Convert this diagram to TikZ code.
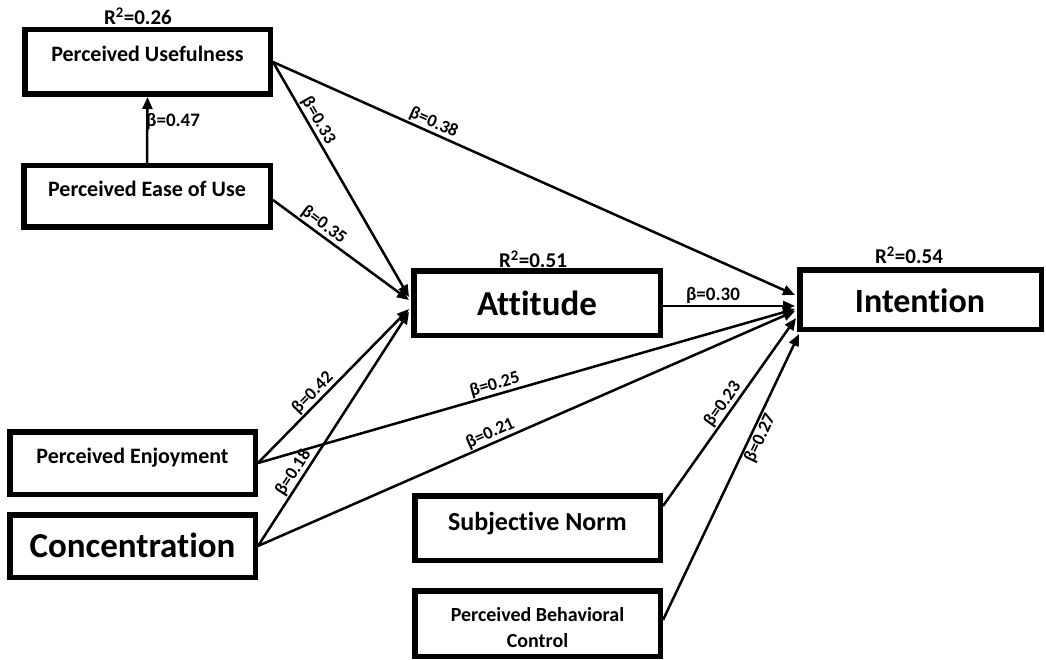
\documentclass[tikz,border=0pt]{standalone}
\usepackage{fontspec}
\setmainfont{Carlito}[Ligatures=NoCommon]
\usetikzlibrary{arrows.meta}
\tikzset{
  box/.style={draw, line width=5.5pt, inner sep=0pt},
  conn/.style={line width=2.5pt, -{Triangle[length=12pt,width=10pt]}},
  txt/.style={font=\bfseries\fontsize{#1}{#1}\selectfont, inner sep=0pt, align=center, anchor=base},
  betalab/.style={font=\bfseries\fontsize{18}{18}\selectfont, inner sep=1pt},
}
\begin{document}
\begin{tikzpicture}[x=1pt,y=-1pt]
\useasboundingbox (0,0) rectangle (1046,660);
% boxes
\node[box, minimum width=245.5pt, minimum height=64.5pt] (pu) at (147.5,62) {};
\node[box, minimum width=246.5pt, minimum height=61.5pt] (peou) at (147,196.5) {};
\node[box, minimum width=245.5pt, minimum height=62.5pt] (pe) at (132.5,463) {};
\node[box, minimum width=245.5pt, minimum height=62.5pt] (conc) at (132.5,546) {};
\node[box, minimum width=246.5pt, minimum height=64.5pt] (att) at (537,303) {};
\node[box, minimum width=241.5pt, minimum height=59.5pt] (int) at (920.5,299.5) {};
\node[box, minimum width=245.5pt, minimum height=64.5pt] (sn) at (537.5,528) {};
\node[box, minimum width=245.5pt, minimum height=65.5pt] (pbc) at (537.5,623.5) {};
% texts
\node[txt=22] (tpu) at (147.5,62) {Perceived Usefulness};
\node[txt=22] (tpeou) at (147,197) {Perceived Ease of Use};
\node[txt=22] (tpe) at (132.5,463) {Perceived Enjoyment};
\node[txt=35] (tconc) at (132.5,557) {Concentration};
\node[txt=35] (tatt) at (537,315) {Attitude};
\node[txt=34] (tint) at (920,312) {Intention};
\node[txt=26] (tsn) at (537.5,530) {Subjective Norm};
\node[inner sep=0pt, align=center, anchor=base, font=\bfseries\fontsize{20}{26}\selectfont] (tpbc) at (537.5,647) {Perceived Behavioral\\Control};
% R2 labels
\node[txt=21] (r1) at (138,25) {R\textsuperscript{2}=0.26};
\node[txt=21] (r2) at (533,268) {R\textsuperscript{2}=0.51};
\node[txt=21] (r3) at (909,264) {R\textsuperscript{2}=0.54};
% end coordinates
\coordinate (a1) at (409,297);
\coordinate (a2) at (409,300);
\coordinate (a3) at (409,309);
\coordinate (a4) at (409,312);
\coordinate (i1) at (795,295);
\coordinate (i2) at (795,306);
\coordinate (i3) at (795,309);
\coordinate (i4) at (795,311);
\coordinate (i5) at (796,318);
\coordinate (i6) at (799,334);
\coordinate (s1) at (273,200);
\coordinate (s2) at (663,306);
\coordinate (s3) at (663,506);
\coordinate (s4) at (663,620);
% connectors
\draw[conn] (peou.north) -- (pu.south);
\node[betalab, anchor=base west, font=\bfseries\fontsize{19}{19}\selectfont] (b47) at (145,127) {β=0.47};
\draw[conn] (pu.east) -- node[betalab, pos=0.27, sloped, above] (b33) {β=0.33} (a1);
\draw[conn] (pu.east) -- node[betalab, pos=0.3, sloped, above] (b38) {β=0.38} (i1);
\draw[conn] (s1) -- node[betalab, pos=0.33, sloped, above] (b35) {β=0.35} (a2);
\draw[conn] (pe.east) -- node[betalab, pos=0.41, sloped, above] (b42) {β=0.42} (a3);
\draw[conn] (conc.east) -- node[betalab, pos=0.29, sloped, above] (b18) {β=0.18} (a4);
\draw[conn] (pe.east) -- node[betalab, pos=0.446, sloped, above] (b25) {β=0.25} (i3);
\draw[conn] (conc.east) -- node[betalab, pos=0.44, sloped, above] (b21) {β=0.21} (i4);
\draw[conn] (s2) -- (i2);
\node[betalab, anchor=base, font=\bfseries\fontsize{19}{19}\selectfont] (b30) at (713,300) {β=0.30};
\draw[conn] (s3) -- node[betalab, pos=0.51, sloped, above] (b23) {β=0.23} (i5);
\draw[conn] (s4) -- node[betalab, pos=0.65, sloped, below] (b27) {β=0.27} (i6);
\end{tikzpicture}
\end{document}
